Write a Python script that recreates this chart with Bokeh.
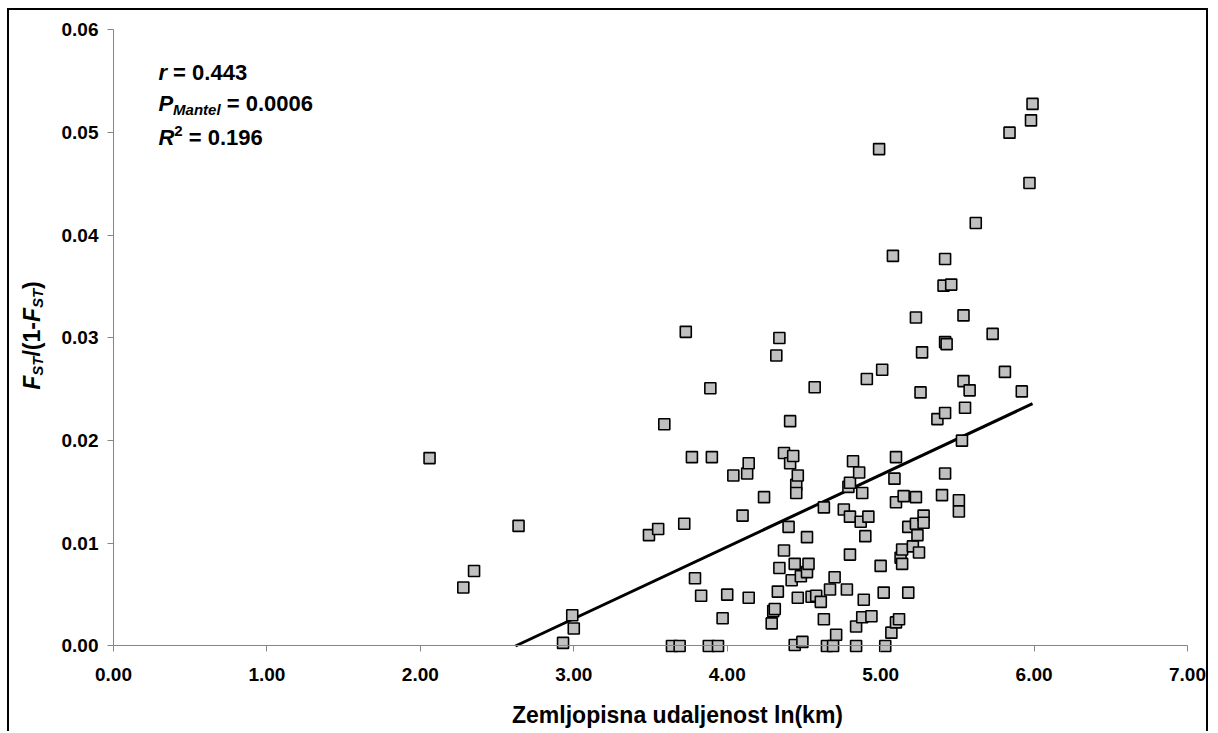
from bokeh.plotting import figure
from bokeh.models import Range1d, Label, FixedTicker, NumeralTickFormatter, ColumnDataSource
from bokeh.embed import file_html
from bokeh.resources import INLINE

# ln(km) geographic distance
ln_km = [2.06, 2.28, 2.35, 2.64, 2.93, 2.99, 3.00,
         3.49, 3.55, 3.59, 3.64, 3.69, 3.72, 3.73, 3.77, 3.79, 3.83, 3.88, 3.89, 3.90,
         3.94, 3.97, 4.00, 4.04, 4.10, 4.13, 4.14, 4.14, 4.24, 4.29, 4.30, 4.31, 4.32,
         4.34, 4.34, 4.33, 4.37, 4.37, 4.40, 4.41, 4.41, 4.42, 4.43, 4.44, 4.44, 4.45,
         4.45, 4.46, 4.46, 4.48, 4.49, 4.52, 4.52, 4.53, 4.55, 4.57, 4.58, 4.61, 4.63,
         4.63, 4.65, 4.67, 4.69, 4.70, 4.71, 4.76, 4.78, 4.79, 4.80, 4.80, 4.80, 4.82,
         4.84, 4.84, 4.86, 4.87, 4.88, 4.88, 4.89, 4.90, 4.91, 4.92, 4.94, 4.99, 5.00,
         5.01, 5.02, 5.03, 5.07, 5.08, 5.09, 5.10, 5.10, 5.10, 5.12, 5.13, 5.14, 5.14,
         5.15, 5.18, 5.18, 5.21, 5.23, 5.23, 5.23, 5.24, 5.25, 5.26, 5.27, 5.28, 5.28,
         5.37, 5.40, 5.41, 5.42, 5.42, 5.42, 5.42, 5.43, 5.46, 5.51, 5.51, 5.53, 5.54,
         5.54, 5.55, 5.58, 5.62, 5.73, 5.81, 5.84, 5.92, 5.97, 5.98, 5.99]
# FST/(1-FST)
fst_ratio = [0.0183, 0.0057, 0.0073, 0.0117, 0.0003, 0.0030, 0.0017,
             0.0108, 0.0114, 0.0216, 0.0000, 0.0000, 0.0119, 0.0306, 0.0184, 0.0066, 0.0049, 0.0000, 0.0251, 0.0184,
             0.0000, 0.0027, 0.0050, 0.0166, 0.0127, 0.0168, 0.0178, 0.0047, 0.0145, 0.0022, 0.0034, 0.0036, 0.0283,
             0.0300, 0.0076, 0.0053, 0.0093, 0.0188, 0.0116, 0.0219, 0.0178, 0.0064, 0.0185, 0.0080, 0.0001, 0.0157,
             0.0149, 0.0166, 0.0047, 0.0068, 0.0004, 0.0106, 0.0072, 0.0080, 0.0048, 0.0252, 0.0049, 0.0043, 0.0026,
             0.0135, 0.0000, 0.0055, 0.0000, 0.0067, 0.0011, 0.0133, 0.0055, 0.0155, 0.0089, 0.0159, 0.0126, 0.0180,
             0.0000, 0.0019, 0.0169, 0.0121, 0.0149, 0.0028, 0.0045, 0.0107, 0.0260, 0.0126, 0.0029, 0.0484, 0.0078,
             0.0269, 0.0052, 0.0000, 0.0013, 0.0380, 0.0163, 0.0184, 0.0140, 0.0023, 0.0026, 0.0086, 0.0094, 0.0080,
             0.0146, 0.0116, 0.0052, 0.0097, 0.0320, 0.0145, 0.0119, 0.0108, 0.0091, 0.0247, 0.0286, 0.0127, 0.0120,
             0.0221, 0.0147, 0.0351, 0.0377, 0.0296, 0.0227, 0.0168, 0.0294, 0.0352, 0.0142, 0.0131, 0.0200, 0.0322,
             0.0258, 0.0232, 0.0249, 0.0412, 0.0304, 0.0267, 0.0500, 0.0248, 0.0451, 0.0512, 0.0528]

# regression line ends
fit_x = [2.62, 5.99]
fit_y = [0.0, 0.0236]

x_ticks = [0, 1, 2, 3, 4, 5, 6, 7]
y_ticks = [0.0, 0.01, 0.02, 0.03, 0.04, 0.05, 0.06]

x_title = "Zemljopisna udaljenost ln(km)"

FONT = "Liberation Sans"
AXIS_GRAY = "#868686"
NB = "\u00a0"

# The frame covers the whole canvas; the axes sit at x=0 / y=0 so that
# the axis titles (drawn as labels) are not clipped.
p = figure(width=1201, height=723, output_backend="svg", toolbar_location=None,
           x_range=Range1d(-0.6778, 7.1499), y_range=Range1d(-0.008523, 0.061899),
           min_border_left=0, min_border_right=0, min_border_top=0, min_border_bottom=0)
p.styles = {"margin-left": "7px", "margin-top": "8px",
            "border-top": "2px solid black", "border-left": "2px solid black",
            "border-right": "2px solid black"}
p.outline_line_color = None
p.xgrid.visible = False
p.ygrid.visible = False
p.background_fill_color = "white"
p.border_fill_color = "white"

for ax in (p.xaxis, p.yaxis):
    ax.fixed_location = 0
    ax.axis_line_color = AXIS_GRAY
    ax.major_tick_line_color = AXIS_GRAY
    ax.major_tick_out = 6
    ax.major_tick_in = 0
    ax.minor_tick_line_color = None
    ax.major_label_text_font = FONT
    ax.major_label_text_font_style = "bold"
    ax.major_label_text_font_size = "19px"
    ax.major_label_text_color = "black"
    ax.formatter = NumeralTickFormatter(format="0.00")

p.xaxis.bounds = (0, 7)
p.yaxis.bounds = (0, 0.06)
p.xaxis.ticker = FixedTicker(ticks=x_ticks)
p.yaxis.ticker = FixedTicker(ticks=y_ticks)
p.xaxis.major_label_standoff = 16
p.yaxis.major_label_standoff = 9

src = ColumnDataSource(dict(x=ln_km, y=fst_ratio))
p.line(fit_x, fit_y, line_color="black", line_width=3)
p.scatter("x", "y", source=src, marker="square", size=11,
          fill_color="#c0c0c0", line_color="black", line_width=1.6)

# --- x axis title ---
p.add_layout(Label(x=3.676, y=-0.00672, text=x_title,
                   text_font=FONT, text_font_style="bold", text_font_size="23px",
                   text_color="black", text_align="center", text_baseline="middle"))

# --- y axis title built from pieces: F_ST/(1-F_ST) ---
fs, sfs = 23, 15
w_F = 0.611 * fs
w_ST = 1.278 * sfs
w_mid = 1.5 * fs
w_close = 0.333 * fs
ylab_x = -0.528
ylab_y = 0.03024
pieces = [("F", fs, "bold italic", 0), ("ST", sfs, "bold italic", 5),
          ("/(1-", fs, "bold", 0), ("F", fs, "bold italic", 0),
          ("ST", sfs, "bold italic", 5), (")", fs, "bold", 0)]
widths = [w_F, w_ST, w_mid, w_F, w_ST, w_close]
off = -sum(widths) / 2
for (t, size, style, sub), w in zip(pieces, widths):
    p.add_layout(Label(x=ylab_x, y=ylab_y, x_offset=sub, y_offset=off, text=t,
                       angle=1.5708, text_font=FONT, text_font_style=style,
                       text_font_size=f"{size}px", text_color="black",
                       text_align="left", text_baseline="middle"))
    off += w

# --- statistics annotation ---
afs, asfs = 22, 15
ax0 = 0.293
rows = [
    (0.05586, [("r", afs, "bold italic", 0, 0.389 * afs), (NB + "= 0.443", afs, "bold", 0, 0)]),
    (0.05284, [("P", afs, "bold italic", 0, 0.667 * afs), ("Mantel", asfs, "bold italic", -6, 3.167 * asfs),
               (NB + "= 0.0006", afs, "bold", 0, 0)]),
    (0.04953, [("R", afs, "bold italic", 0, 0.722 * afs), ("2", asfs, "bold", 6, 0.556 * asfs),
               (NB + "= 0.196", afs, "bold", 0, 0)]),
]
for yv, parts in rows:
    off = 0
    for t, size, style, dy, w in parts:
        p.add_layout(Label(x=ax0, y=yv, x_offset=off, y_offset=dy, text=t,
                           text_font=FONT, text_font_style=style,
                           text_font_size=f"{size}px", text_color="black",
                           text_align="left", text_baseline="middle"))
        off += w

open("out.html", "w").write(file_html(p, INLINE))
